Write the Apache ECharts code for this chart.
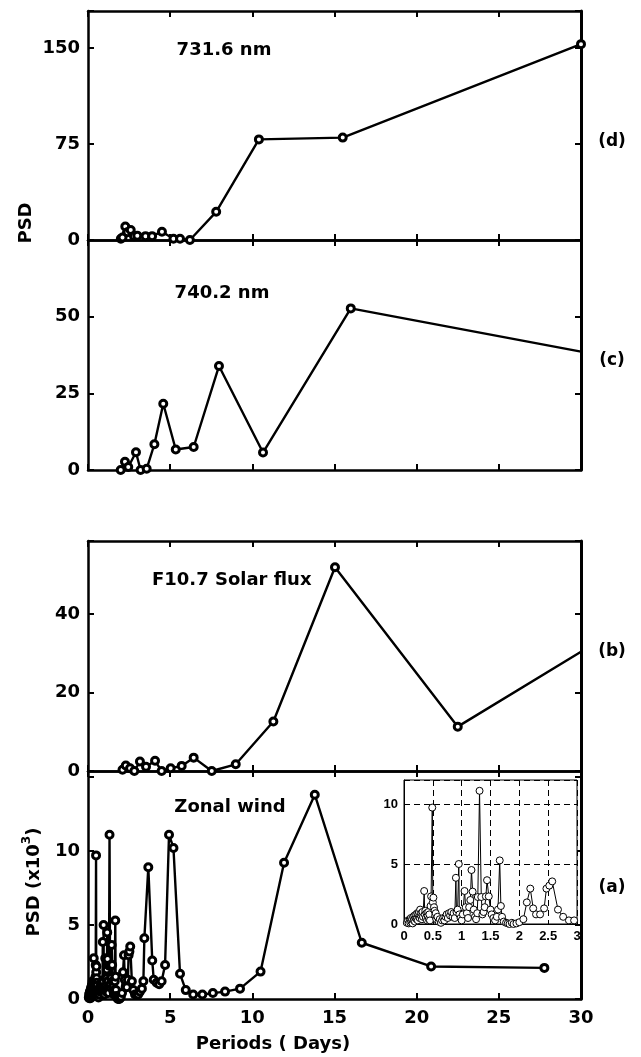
<!DOCTYPE html>
<html>
<head>
<meta charset="utf-8">
<script src="https://cdn.jsdelivr.net/npm/echarts@6/dist/echarts.min.js"></script>
<style>html,body{margin:0;padding:0;background:#fff}#c{width:641px;height:1057px}</style>
</head>
<body>
<div id="c"></div>
<script>
// ---- data ----
const periodsD = [2.0, 2.1, 2.27, 2.4, 2.6, 2.8, 3.0, 3.5, 3.9, 4.5, 5.2, 5.6, 6.2, 7.8, 10.4, 15.5, 30];
const psdD     = [1, 2, 10.5, 6, 7.8, 3, 3.4, 3, 3, 6.5, 1, 1, 0, 22, 78.6, 80, 153];

const periodsC = [1.99, 2.25, 2.45, 2.92, 3.2, 3.57, 4.04, 4.58, 5.34, 6.43, 7.97, 10.65, 15.99, 30];
const psdC     = [0, 2.7, 1, 5.8, 0, 0.4, 8.4, 21.6, 6.7, 7.5, 33.9, 5.7, 52.7, 38.6];

const periodsB = [2.1, 2.3, 2.56, 2.82, 3.16, 3.53, 4.08, 4.48, 5.03, 5.7, 6.43, 7.53, 8.99, 11.28, 15.03, 22.5, 30];
const psdB     = [0.3, 1.4, 0.7, 0, 2.4, 1.1, 2.6, 0, 0.7, 1.3, 3.4, 0, 1.7, 12.6, 51.9, 11.3, 30.4];

const periodsA = [0.05,0.07,0.08,0.10,0.11,0.12,0.13,0.14,0.15,0.16,
  0.17,0.18,0.19,0.20,0.21,0.22,0.23,0.24,0.25,0.26,
  0.27,0.28,0.29,0.30,0.31,0.32,0.33,0.35,0.36,0.37,
  0.38,0.39,0.40,0.41,0.42,0.43,0.44,0.45,0.46,0.47,
  0.49,0.50,0.51,0.52,0.53,0.54,0.55,0.56,0.58,0.60,
  0.62,0.64,0.66,0.68,0.70,0.72,0.74,0.76,0.78,0.80,
  0.82,0.84,0.86,0.88,0.90,0.91,0.93,0.95,0.96,0.98,
  1.00,1.02,1.05,1.07,1.09,1.11,1.13,1.15,1.17,1.19,
  1.21,1.23,1.25,1.27,1.28,1.31,1.34,1.36,1.38,1.40,
  1.42,1.44,1.47,1.50,1.52,1.55,1.58,1.61,1.63,1.66,
  1.68,1.70,1.73,1.77,1.80,1.83,1.87,1.90,1.95,2.00,
  2.07,2.13,2.19,2.24,2.29,2.36,2.43,2.47,2.52,2.57,
  2.67,2.76,2.86,2.95,3.05,3.16,3.28,3.37,3.43,3.67,
  3.91,4.00,4.18,4.33,4.48,4.69,4.93,5.20,5.60,5.95,
  6.40,6.96,7.60,8.34,9.25,10.50,11.93,13.80,16.66,20.88,
  27.77];
const psdA = [0.1,0.3,0.05,0.4,0.1,0.5,0.2,0.4,0.05,0.6,
  0.3,0.7,0.2,0.5,0.8,0.4,0.9,0.3,0.8,1.0,
  0.5,1.2,0.7,0.9,0.4,1.0,0.6,2.75,0.8,1.1,
  0.5,0.9,0.3,0.7,1.0,0.4,0.8,0.3,1.5,2.3,
  9.7,1.8,2.2,1.4,1.1,0.7,0.9,0.4,0.6,0.2,
  0.4,0.1,0.3,0.5,0.3,0.6,0.8,0.5,0.9,0.7,
  1.0,0.6,0.9,0.5,3.85,1.0,1.2,5.0,0.8,0.5,
  0.3,0.8,2.75,1.4,0.9,0.5,1.4,2.0,4.5,2.7,
  1.2,0.6,0.4,0.9,2.25,11.1,2.25,0.8,1.0,1.4,
  2.3,3.65,2.3,1.2,0.8,0.5,0.3,0.6,1.2,5.3,
  1.5,0.6,0.2,0.1,0.05,0.0,0.1,0.0,0.05,0.15,
  0.4,1.8,2.95,1.3,0.8,0.8,1.3,2.95,3.2,3.55,
  1.2,0.6,0.3,0.3,0.3,0.5,0.7,1.2,4.1,8.9,
  2.6,1.3,1.1,1.0,1.2,2.3,11.1,10.2,1.7,0.6,
  0.3,0.3,0.4,0.5,0.7,1.85,9.2,13.8,3.8,2.2,
  2.1];

const panelTitles = ['731.6 nm', '740.2 nm', 'F10.7 Solar flux', 'Zonal wind'];
const panelTags = ['(d)', '(c)', '(b)', '(a)'];
const yMax = [178.9, 75, 58.6, 15.4];
const yStep = [75, 25, 20, 5];
const yLabelMax = [150, 50, 40, 10];
const xTicks = [0, 5, 10, 15, 20, 25, 30];
const insetXTicks = [0, 0.5, 1, 1.5, 2, 2.5, 3];
const insetYTicks = [0, 5, 10];

// ---- chart ----
const FONT = '"DejaVu Sans", "Liberation Sans", Arial, sans-serif';
const chart = echarts.init(document.getElementById('c'), null, {renderer: 'canvas'});

const gridBoxes = [
  {left: 88, top: 11, width: 493, height: 229},
  {left: 88, top: 240, width: 493, height: 230},
  {left: 88, top: 541, width: 493, height: 230},
  {left: 88, top: 771, width: 493, height: 228}
];
const grid = gridBoxes.map(g => Object.assign({containLabel: false}, g));
grid.push({left: 404, top: 780, width: 173, height: 144, show: true,
  backgroundColor: '#fff', borderColor: '#000', borderWidth: 1, z: 5});

const xAxis = [], yAxis = [];
const lineAx = w => ({show: true, onZero: false, lineStyle: {color: '#000', width: w}});
for (let i = 0; i < 4; i++) {
  const isBottom = i === 3;
  xAxis.push({type: 'value', gridIndex: i, min: xTicks[0], max: xTicks[xTicks.length - 1], interval: 5,
    position: 'bottom', axisLine: lineAx(2.5),
    axisTick: {show: true, inside: true, length: 6, lineStyle: {color: '#000', width: 2}},
    axisLabel: {show: isBottom, color: '#000', fontFamily: FONT, fontWeight: 'bold', fontSize: 18, margin: 10},
    splitLine: {show: false}});
  xAxis.push({type: 'value', gridIndex: i, min: 0, max: 30, interval: 5, position: 'top',
    axisLine: lineAx(2.5),
    axisTick: {show: true, inside: true, length: 6, lineStyle: {color: '#000', width: 2}},
    axisLabel: {show: false}, splitLine: {show: false}});
  const lm = yLabelMax[i];
  yAxis.push({type: 'value', gridIndex: i, min: 0, max: yMax[i], interval: yStep[i], position: 'left',
    axisLine: lineAx(2.5),
    axisTick: {show: true, inside: true, length: 6, lineStyle: {color: '#000', width: 2}},
    axisLabel: {show: true, color: '#000', fontFamily: FONT, fontWeight: 'bold', fontSize: 18, margin: 8,
      formatter: v => (v <= lm && Math.abs(v / yStep[i] - Math.round(v / yStep[i])) < 1e-6) ? String(v) : ''},
    splitLine: {show: false}});
  yAxis.push({type: 'value', gridIndex: i, min: 0, max: yMax[i], interval: yStep[i], position: 'right',
    axisLine: lineAx(3),
    axisTick: {show: true, inside: true, length: 6, lineStyle: {color: '#000', width: 2}},
    axisLabel: {show: false}, splitLine: {show: false}});
}
// inset axes
xAxis.push({type: 'value', gridIndex: 4, min: 0, max: 3, interval: 0.5, position: 'bottom',
  axisLine: lineAx(1), axisTick: {show: false},
  axisLabel: {show: true, color: '#000', fontFamily: '"Liberation Sans", Arial, sans-serif', fontWeight: 'bold', fontSize: 13, margin: 6},
  splitLine: {show: true, lineStyle: {color: '#000', width: 1, type: [6, 4]}}, z: 6});
yAxis.push({type: 'value', gridIndex: 4, min: 0, max: 12, interval: 5, position: 'left',
  axisLine: lineAx(1), axisTick: {show: false},
  axisLabel: {show: true, color: '#000', fontFamily: '"Liberation Sans", Arial, sans-serif', fontWeight: 'bold', fontSize: 13, margin: 6,
    formatter: v => (insetYTicks.indexOf(v) >= 0 ? String(v) : '')},
  splitLine: {show: true, lineStyle: {color: '#000', width: 1, type: [6, 4]}}, z: 6});

const zip = (xs, ys) => xs.map((x, k) => [x, ys[k]]);
const edgeNoSymbol = pts => pts.map((p, k) => (k === pts.length - 1 && p[0] >= 30) ? {value: p, symbol: 'none'} : p);

const mainSeries = (data, idx) => ({
  type: 'line', xAxisIndex: idx * 2, yAxisIndex: idx * 2, data: data,
  symbol: 'circle', symbolSize: 7, showAllSymbol: true, clip: true,
  lineStyle: {color: '#000', width: 2.4},
  itemStyle: {color: '#fff', borderColor: '#000', borderWidth: 3},
  animation: false, z: 3
});

const series = [
  mainSeries(zip(periodsD, psdD), 0),
  mainSeries(edgeNoSymbol(zip(periodsC, psdC)), 1),
  mainSeries(edgeNoSymbol(zip(periodsB, psdB)), 2),
  mainSeries(zip(periodsA, psdA), 3),
  {type: 'line', xAxisIndex: 8, yAxisIndex: 8, data: zip(periodsA, psdA).filter(p => p[0] <= 3),
    symbol: 'circle', symbolSize: 7, showAllSymbol: true, clip: true,
    lineStyle: {color: '#000', width: 1},
    itemStyle: {color: '#fff', borderColor: '#000', borderWidth: 1},
    animation: false, z: 10}
];

const txt = (s, x, y, size, extra) => Object.assign({
  type: 'text', z: 50,
  style: {text: s, x: x, y: y, fill: '#000', font: 'bold ' + size + 'px ' + FONT,
    textAlign: 'center', align: 'center', textVerticalAlign: 'middle', verticalAlign: 'middle'}
}, extra || {});

const graphic = [
  txt(panelTitles[0], 224, 50, 18),
  txt(panelTitles[1], 222, 293, 18),
  txt(panelTitles[2], 152, 580, 18),
  txt(panelTitles[3], 230, 807, 18),
  txt(panelTags[0], 612, 142, 17),
  txt(panelTags[1], 612, 361, 17),
  txt(panelTags[2], 612, 652, 17),
  txt(panelTags[3], 612, 888, 17),
  txt('Periods ( Days)', 273, 1044, 18),
  {type: 'text', z: 50, x: 26, y: 223, rotation: Math.PI / 2,
    style: {text: 'PSD', x: 0, y: 0, fill: '#000', font: 'bold 18px ' + FONT,
      textAlign: 'center', align: 'center', textVerticalAlign: 'middle', verticalAlign: 'middle'}},
  {type: 'text', z: 50, x: 32, y: 882, rotation: Math.PI / 2,
    style: {text: '{n|PSD (x10}{s|3}{n|)}', x: 0, y: 0, fill: '#000',
      textAlign: 'center', align: 'center', textVerticalAlign: 'middle', verticalAlign: 'middle',
      rich: {
        n: {font: 'bold 18px ' + FONT, fill: '#000', lineHeight: 22, verticalAlign: 'bottom'},
        s: {font: 'bold 12px ' + FONT, fill: '#000', lineHeight: 22, verticalAlign: 'top', padding: [0, 0, 10, 0]}
      }}}
];
// left-align F10.7 title
graphic[2].style.textAlign = 'left'; graphic[2].style.align = 'left';

chart.setOption({
  animation: false,
  backgroundColor: '#fff',
  grid: grid, xAxis: xAxis, yAxis: yAxis, series: series, graphic: graphic
});
</script>
</body>
</html>
